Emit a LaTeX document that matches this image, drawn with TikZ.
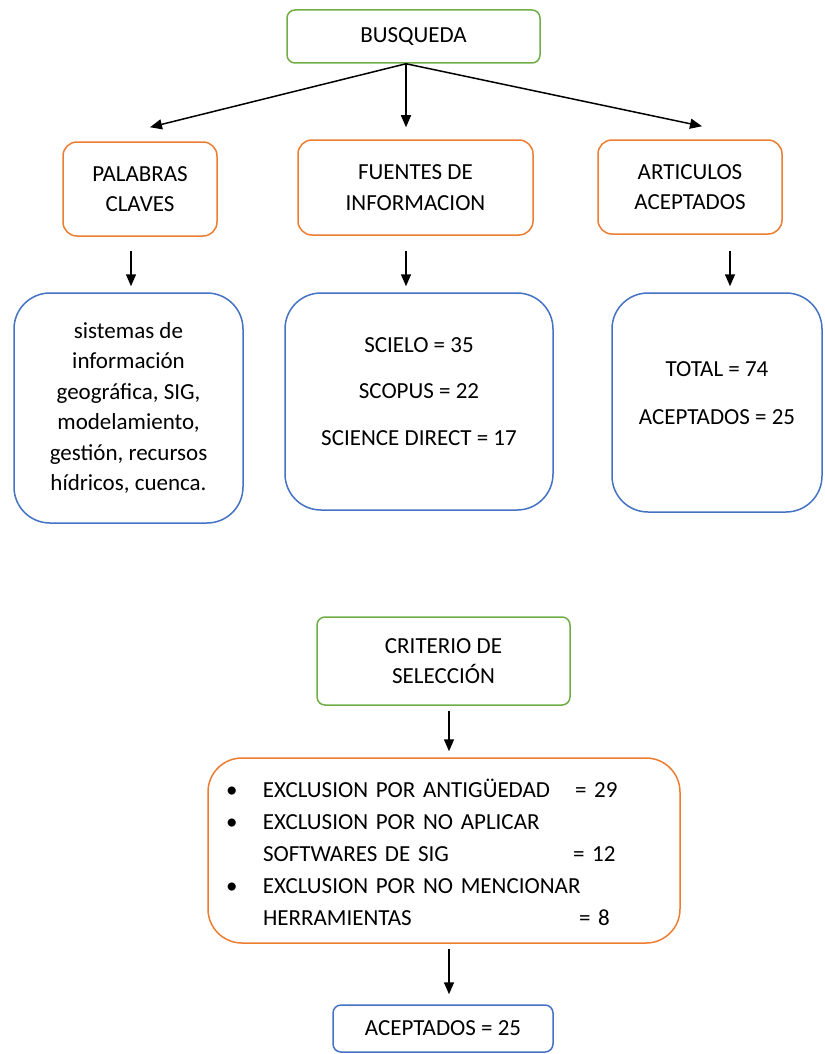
\documentclass[tikz,border=0pt]{standalone}
\usepackage{fontspec}
\setmainfont{Carlito}
\usepackage{tikz}
\usetikzlibrary{positioning,arrows.meta}
\definecolor{boxgreen}{HTML}{70AD47}
\definecolor{boxorange}{HTML}{ED7D31}
\definecolor{boxblue}{HTML}{4472C4}

\begin{document}
\begin{tikzpicture}[x=0.5pt,y=-0.5pt,on grid,
  font=\fontsize{11.5}{15.25}\selectfont,
  box/.style={draw,line width=0.75pt,fill=white,align=center,inner sep=0pt},
  greenbox/.style={box,draw=boxgreen,rounded corners=4pt},
  orangebox/.style={box,draw=boxorange,rounded corners=7pt},
  bluebox/.style={box,draw=boxblue,rounded corners=18pt},
  arr/.style={line width=0.75pt,-{Triangle[width=5pt,length=6pt]}}]
\useasboundingbox (0,0) rectangle (824,1054);

\node[greenbox,minimum width=126.5pt,minimum height=26.5pt](busq) at (413.5,36.5) {BUSQUEDA};
\node[orangebox,minimum width=117.5pt,minimum height=47.5pt](fuentes)[below=75.5pt of busq,xshift=1pt]{FUENTES DE\\INFORMACION};
\node[orangebox,minimum width=77pt,minimum height=47pt](palabras)[left=137.75pt of fuentes,yshift=-0.75pt]{PALABRAS\\CLAVES};
\node[orangebox,minimum width=92pt,minimum height=47pt](articulos)[right=137.25pt of fuentes,yshift=0.25pt]{ARTICULOS\\ACEPTADOS};

\node[bluebox,minimum width=114.5pt,minimum height=115pt](kw)[below=109.5pt of palabras,xshift=-5.75pt]{sistemas de\\información\\geográfica, SIG,\\modelamiento,\\gestión, recursos\\hídricos, cuenca.};
\node[bluebox,minimum width=134pt,minimum height=108.5pt](src)[below=107pt of fuentes,xshift=1.75pt]{SCIELO = 35\\[8pt]SCOPUS = 22\\[8pt]SCIENCE DIRECT = 17\\[-5.25pt]};
\node[bluebox,minimum width=105pt,minimum height=109.5pt](tot)[below=107.75pt of articulos,xshift=13.5pt]{TOTAL = 74\\[9pt]ACEPTADOS = 25\\[-6pt]};

\node[greenbox,minimum width=126.5pt,minimum height=44pt](crit)[below=129.75pt of src,xshift=12.25pt]{CRITERIO DE\\SELECCIÓN};
\node[orangebox,rounded corners=17pt,text width=218pt,inner xsep=9pt,minimum height=92.5pt,align=left](excl)[below=94.75pt of crit,xshift=0.25pt]{\fontsize{11.5}{16}\selectfont
  \raisebox{-2.5pt}[\height][\depth]{\begin{tabular}{@{}p{18.5pt}@{}l@{}}
  \textbullet & \makebox[156pt][l]{EXCLUSION POR ANTIGÜEDAD}= 29\\
  \textbullet & EXCLUSION POR NO APLICAR\\
   & \makebox[155pt][l]{SOFTWARES DE SIG}= 12\\
  \textbullet & EXCLUSION POR NO MENCIONAR\\
   & \makebox[158pt][l]{HERRAMIENTAS}= 8
  \end{tabular}}};
\node[box,draw=boxblue,rounded corners=4pt,minimum width=110pt,minimum height=23.5pt](acep)[below=89pt of excl,xshift=-0.5pt]{ACEPTADOS = 25};

\coordinate (split) at ([xshift=-3.75pt]busq.south);
\draw[arr] (split) -- ([xshift=5pt,yshift=7pt]palabras.north);
\draw[arr] (split) -- ([xshift=-4.75pt,yshift=6pt]fuentes.north);
\draw[arr] (split) -- ([xshift=6pt,yshift=6.5pt]articulos.north);

\draw[arr] ([xshift=-4.5pt,yshift=-7pt]palabras.south) coordinate (a1) -- ([yshift=3pt]a1 |- kw.north);
\draw[arr] ([xshift=-4.75pt,yshift=-7.5pt]fuentes.south) coordinate (a2) -- ([yshift=3pt]a2 |- src.north);
\draw[arr] ([xshift=20pt,yshift=-8pt]articulos.south) coordinate (a3) -- ([yshift=3pt]a3 |- tot.north);
\draw[arr] ([xshift=2.75pt,yshift=-2.5pt]crit.south) coordinate (a4) -- ([yshift=3pt]a4 |- excl.north);
\draw[arr] ([xshift=2.5pt,yshift=-2.5pt]excl.south) coordinate (a5) -- ([yshift=5pt]a5 |- acep.north);
\end{tikzpicture}
\end{document}
